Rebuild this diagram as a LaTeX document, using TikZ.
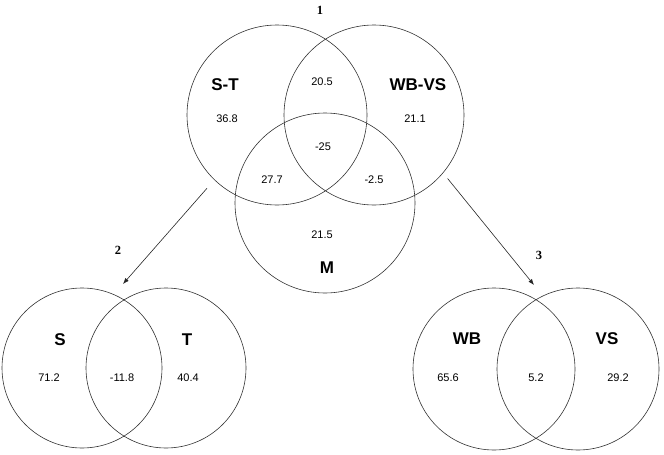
\documentclass[tikz,border=0pt]{standalone}
\usepackage{fontspec}
\setmainfont{Liberation Sans}
\newfontfamily\panelfont{Liberation Serif}
\usetikzlibrary{arrows.meta}

\begin{document}
\begin{tikzpicture}[x=1pt,y=-1pt,
  venn/.style={draw=black!80, line width=0.6pt, circle, inner sep=0pt, minimum size=#1},
  setname/.style={font=\fontsize{17}{17}\selectfont\bfseries},
  val/.style={font=\fontsize{11}{12}\selectfont},
  panel/.style={font=\panelfont\fontsize{12.5}{13}\selectfont\bfseries},
  arr/.style={-{Latex[length=6pt,width=4.5pt]}, line width=0.6pt, black!85}]
\useasboundingbox (0,0) rectangle (664,455);

% Three-way partition (1)
\node[venn=180pt] (ST) at (277,115) {};
\node[venn=180pt] (WBVS) at (374,115) {};
\node[venn=180pt] (M) at (325,203) {};
\node[panel] (p1) at (320,10) {1};

\node[setname] (lST) at (225,85) {S-T};
\node[setname] (lWBVS) at (418,85) {WB-VS};
\node[setname] (lM) at (327,268) {M};

\node[val] (vST) at (227,119) {36.8};
\node[val] (vSTWB) at (322,82) {20.5};
\node[val] (vWBVS) at (415,119) {21.1};
\node[val] (vAll) at (323,147) {-25};
\node[val] (vSTM) at (272,180) {27.7};
\node[val] (vWBM) at (374,180) {-2.5};
\node[val] (vM) at (322,235) {21.5};

% S-T split (2)
\node[venn=160pt] (S) at (82,368) {};
\node[venn=160pt] (T) at (166,368) {};
\node[panel] (p2) at (118,250) {2};
\coordinate (top2) at (123,284);

\node[setname] (lS) at (60,340) {S};
\node[setname] (lT) at (187,340) {T};
\node[val] (vS) at (49,378) {71.2};
\node[val] (vTS) at (122,378) {-11.8};
\node[val] (vT) at (188,378) {40.4};

% WB-VS split (3)
\node[venn=162pt] (WB) at (494,369) {};
\node[venn=162pt] (VS) at (578,369) {};
\node[panel] (p3) at (539,255) {3};
\coordinate (top3) at (534,285);

\node[setname] (lWB) at (467,339) {WB};
\node[setname] (lVS) at (607,339) {VS};
\node[val] (vWB) at (448,378) {65.6};
\node[val] (vWV) at (536,378) {5.2};
\node[val] (vVS) at (618,378) {29.2};

% arrows
\draw[arr, shorten <=11pt] (ST.226) -- (top2);
\draw[arr, shorten <=7pt] (WBVS.320) -- (top3);
\end{tikzpicture}
\end{document}
